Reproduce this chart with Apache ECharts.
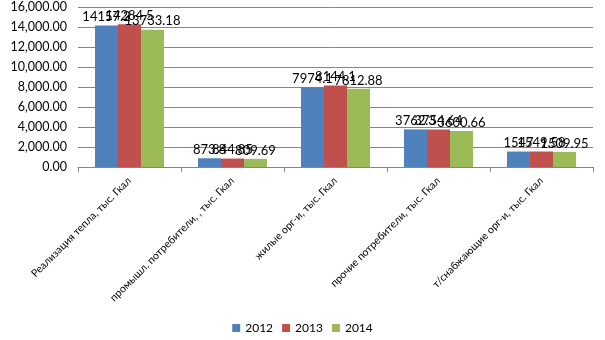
<!DOCTYPE html>
<html><head><meta charset="utf-8">
<script src="https://cdn.jsdelivr.net/npm/echarts@6/dist/echarts.min.js"></script>
<style>html,body{margin:0;padding:0;background:#fff}#c{width:605px;height:340px}</style>
</head><body><div id="c"></div>
<script>
const categories = ["Реализация тепла, тыс. Гкал", "промышл. потребители, , тыс. Гкал", "жилые орг-и, тыс. Гкал", "прочие потребители, тыс. Гкал", "т/снабжающие орг-и, тыс. Гкал"];
const s2012 = [14157.2, 873.8, 7974.1, 3762.3, 1547];
const s2013 = [14284.5, 844.85, 8144.1, 3754.64, 1549.58];
const s2014 = [13733.18, 809.69, 7812.88, 3600.66, 1509.95];
const seriesNames = ["2012", "2013", "2014"];
const colors = ["#4F81BD", "#C0504D", "#9BBB59"];
const font = "Lato, 'DejaVu Sans', sans-serif";
const chart = echarts.init(document.getElementById('c'));
const mk = (name, data, color) => ({
  name, type: 'bar', data, barGap: '0%', barCategoryGap: '33%',
  itemStyle: {color},
  label: {show: true, position: 'top', distance: 2, color: '#000', fontSize: 13, fontFamily: font}
});
chart.setOption({
  animation: false,
  grid: {left: 78, right: 12, top: 7, bottom: 173},
  legend: {bottom: 1, left: 'center', itemWidth: 8, itemHeight: 8, itemGap: 9,
    textStyle: {fontSize: 12, fontFamily: font, color: '#000'},
    data: seriesNames.map((n, i) => ({name: n, icon: 'rect'}))},
  xAxis: {type: 'category', data: categories,
    axisLine: {lineStyle: {color: '#868686'}},
    axisTick: {show: true, length: 5, lineStyle: {color: '#868686'}},
    axisLabel: {rotate: 45, fontSize: 10.5, fontFamily: font, color: '#000', margin: 12, interval: 0}},
  yAxis: {type: 'value', min: 0, max: 16000, interval: 2000,
    axisLine: {show: false}, axisTick: {show: false},
    splitLine: {lineStyle: {color: '#868686'}},
    axisLabel: {fontSize: 12.5, fontFamily: font, color: '#000', margin: 11,
      formatter: v => v.toLocaleString('en-US', {minimumFractionDigits: 2, maximumFractionDigits: 2})}},
  series: [mk(seriesNames[0], s2012, colors[0]), mk(seriesNames[1], s2013, colors[1]), mk(seriesNames[2], s2014, colors[2])]
});
</script></body></html>
